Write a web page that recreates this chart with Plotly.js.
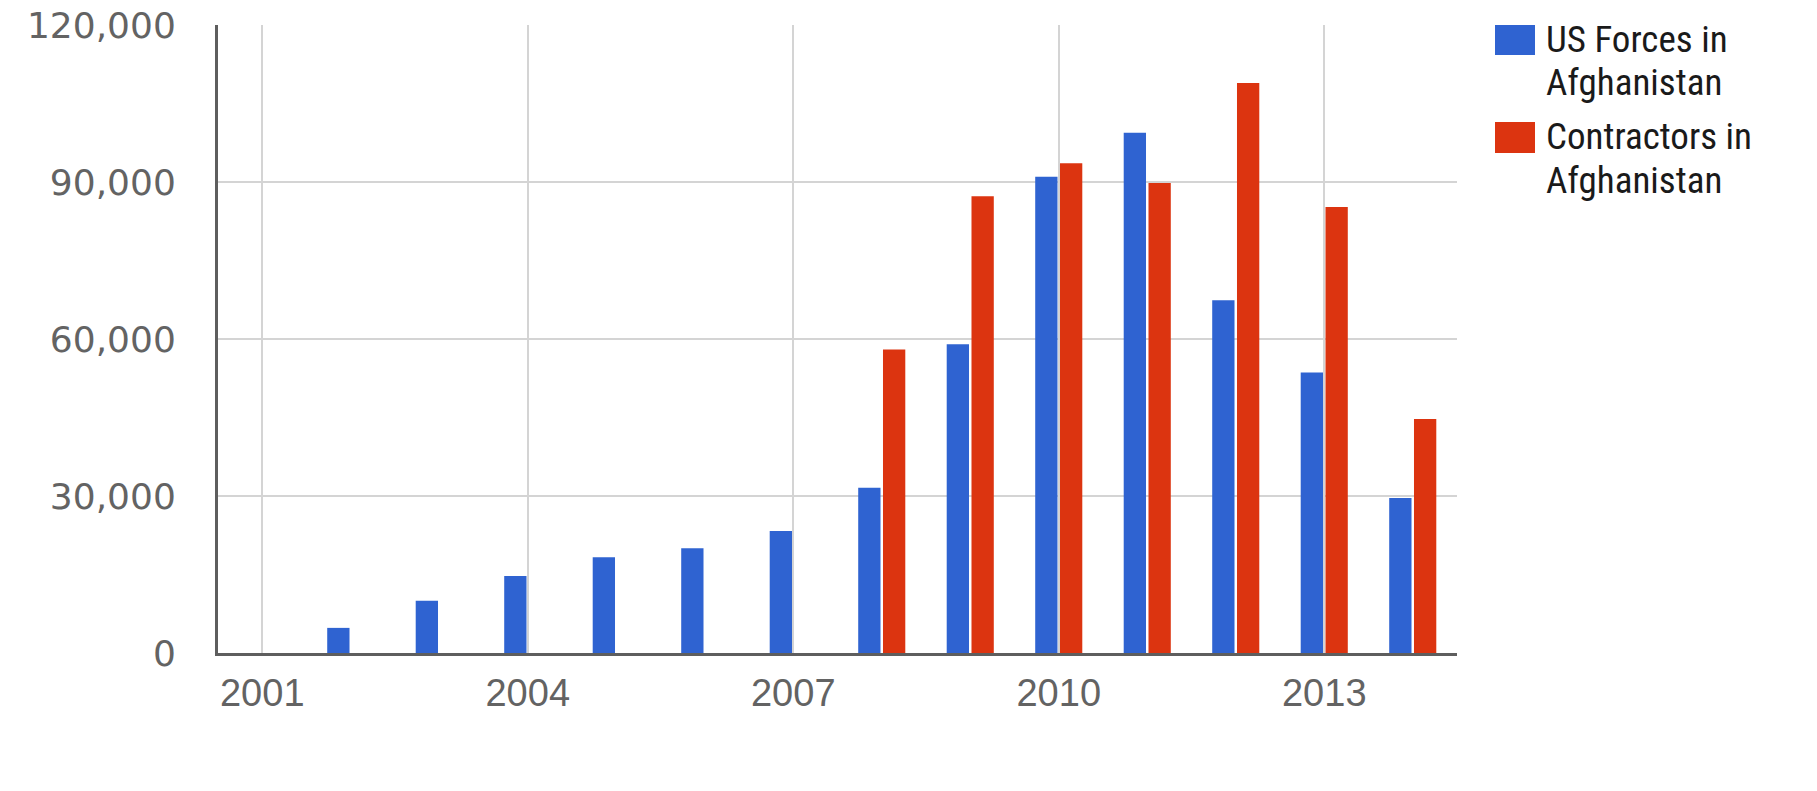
<!DOCTYPE html>
<html>
<head>
<meta charset="utf-8">
<script src="https://cdn.plot.ly/plotly-3.0.1.min.js"></script>
<style>
  html, body { margin: 0; padding: 0; background: #ffffff; }
  #chart { width: 1817px; height: 791px; }
</style>
</head>
<body>
<div id="chart"></div>
<script>
// ---- Data ----
const years = [2001, 2002, 2003, 2004, 2005, 2006, 2007, 2008, 2009, 2010, 2011, 2012, 2013, 2014];
const usForces = [null, 4800, 10000, 14700, 18300, 20000, 23300, 31600, 59000, 91000, 99400, 67400, 53600, 29600];
const contractors = [null, null, null, null, null, null, null, 58000, 87300, 93600, 89800, 108900, 85200, 44700];
const seriesNames = ["US Forces in<br>Afghanistan", "Contractors in<br>Afghanistan"];
const seriesColors = ["#2f63d1", "#dc3410"];
const yTicks = [0, 30000, 60000, 90000, 120000];
const xTicks = [2001, 2004, 2007, 2010, 2013];

const traces = [
  { type: "bar", x: years, y: usForces, name: seriesNames[0].replace("<br>", " "),
    marker: { color: seriesColors[0], line: { width: 0 } }, showlegend: false },
  { type: "bar", x: years, y: contractors, name: seriesNames[1].replace("<br>", " "),
    marker: { color: seriesColors[1], line: { width: 0 } }, showlegend: false }
];

// Custom legend (large swatches like the reference)
const plotL = 218, plotR = 1457, plotT = 25, plotB = 653;
const pw = plotR - plotL, ph = plotB - plotT;
const px2x = p => (p - plotL) / pw;
const py2y = p => (plotB - p) / ph;

const legendItems = [
  { top: 25, bottom: 55, firstLine: 39 },
  { top: 122, bottom: 153, firstLine: 136 }
];
const lineStep = 44;
const shapes = [];
const annotations = [];
legendItems.forEach((it, i) => {
  shapes.push({
    type: "rect", xref: "paper", yref: "paper",
    x0: px2x(1495), x1: px2x(1535), y0: py2y(it.bottom), y1: py2y(it.top),
    fillcolor: seriesColors[i], line: { width: 0 }
  });
  seriesNames[i].split("<br>").forEach((line, k) => {
    annotations.push({
      xref: "paper", yref: "paper", x: px2x(1545), y: py2y(it.firstLine + k * lineStep),
      xanchor: "left", yanchor: "middle", align: "left", showarrow: false,
      borderpad: 0,
      text: line,
      font: { family: "'Roboto Condensed', Roboto, 'Noto Sans', sans-serif", size: 37, color: "#1a1a1a" }
    });
  });
});

const layout = {
  width: 1817, height: 791,
  paper_bgcolor: "#ffffff", plot_bgcolor: "#ffffff",
  margin: { l: plotL, r: 1817 - plotR, t: plotT, b: 791 - plotB, pad: 0 },
  barmode: "group", bargap: 0.44, bargroupgap: 0.1,
  showlegend: false,
  xaxis: {
    range: [2000.5, 2014.5], tickmode: "array", tickvals: xTicks,
    ticktext: xTicks.map(String),
    showgrid: true, gridcolor: "#d4d4d4", gridwidth: 2,
    showline: true, linecolor: "#5e5e5e", linewidth: 3,
    zeroline: false, ticks: "", ticklabelstandoff: 4,
    tickfont: { family: "'Liberation Sans', Arial, sans-serif", size: 38, color: "#636363" }
  },
  yaxis: {
    range: [0, 120000], tickmode: "array", tickvals: yTicks,
    ticktext: yTicks.map(v => v.toLocaleString("en-US")),
    showgrid: true, gridcolor: "#d4d4d4", gridwidth: 2,
    showline: true, linecolor: "#5e5e5e", linewidth: 3,
    zeroline: false, ticks: "", ticklabelstandoff: 32,
    tickfont: { family: "'DejaVu Sans', sans-serif", size: 36, color: "#636363" }
  },
  shapes: shapes,
  annotations: annotations
};

Plotly.newPlot("chart", traces, layout, { displayModeBar: false, staticPlot: true });
</script>
</body>
</html>
